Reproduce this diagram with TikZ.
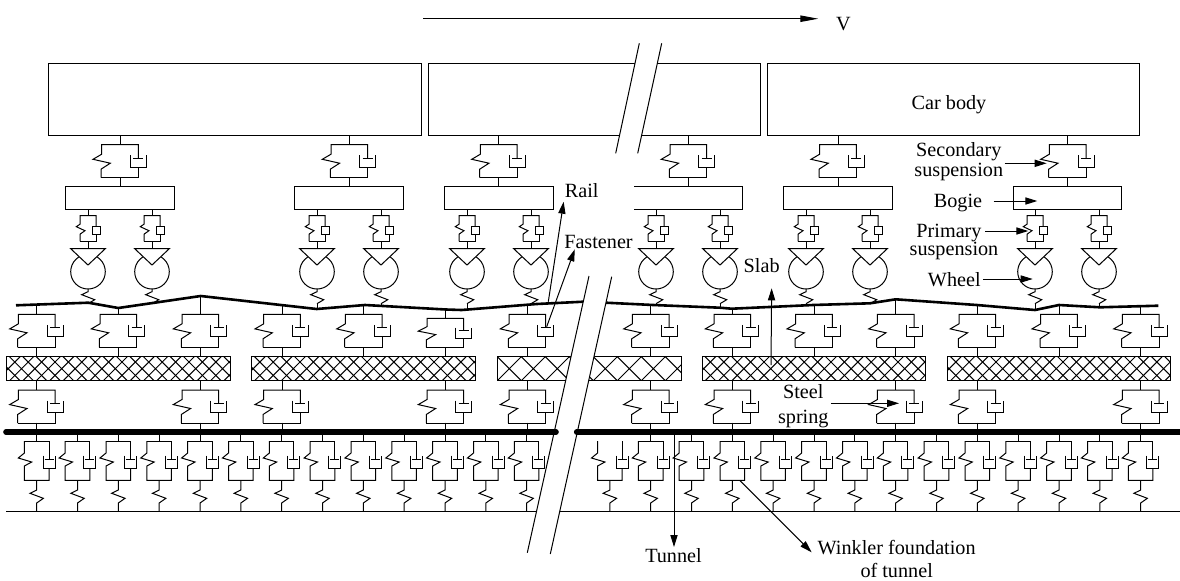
\documentclass[tikz,border=0pt]{standalone}
\usepackage{fontspec}
\setmainfont{Liberation Serif}
\usetikzlibrary{arrows.meta}
\newcommand{\hatchslab}[3]{%
  \pgfmathsetmacro{\hatchfirst}{#1-24}%
  \pgfmathsetmacro{\hatchnext}{#1-24+#3}%
  \begin{scope}
    \clip (#1,356.7) rectangle (#2,380.7);
    \foreach \k in {\hatchfirst,\hatchnext,...,#2}
      \draw (\k,356.7) -- (\k+24,380.7) (\k+24,356.7) -- (\k,380.7);
  \end{scope}
  \draw (#1,356.7) rectangle (#2,380.7);
}

\begin{document}
\begin{tikzpicture}[
  x=0.5pt, y=-0.5pt, line width=0.5pt,
  labeltext/.style={anchor=base, inner sep=0pt, align=center, font=\fontsize{10.1}{8.5}\selectfont},
  pointer/.style={-{Triangle[length=6pt,width=3.6pt]}},
  longpointer/.style={-{Triangle[length=9pt,width=3.2pt]}},
  railline/.style={line width=1.3pt, line join=round},
  beamline/.style={line width=2.8pt, line cap=round},
  bigsus/.pic={
    \draw (-19,33) -- (-19,24.5) -- (-9.7,18.5) -- (-27,14.6) -- (-18.3,9.5) -- (-18.3,0) -- (18.3,0) -- (18.3,13.6);
    \draw (-19,33) -- (18.3,33) -- (18.3,22.6);
    \draw (13.3,13.6) -- (23.3,13.6);
    \draw (10.3,10.5) -- (10.3,22.6) -- (26.3,22.6) -- (26.3,10.5);
  },
  smallsus/.pic={
    \draw (-8,25.6) -- (-8,18.5) -- (-3,15) -- (-11.7,11) -- (-8,8.5) -- (-8,0) -- (8,0) -- (8,10.3);
    \draw (-8,25.6) -- (8,25.6) -- (8,18.3);
    \draw (4,10.3) rectangle (12,18.3);
  },
  wheelset/.pic={
    \draw (0,23) circle [radius=17.3];
    \draw[fill=white] (-17.3,0) -- (17.3,0) -- (0,16.3) -- cycle;
    \draw (0,40.3) -- (0,43) -- (-6.3,46) -- (6.7,51) -- (0,55);
  },
  fndsus/.pic={
    \draw (-12.3,0) -- (-12.3,12) -- (-18.4,17) -- (-5,21) -- (-12.3,25) -- (-12.3,39.3) -- (12.3,39.3) -- (12.3,27.3);
    \draw (12.3,0) -- (12.3,18);
    \draw (7.8,18) -- (16.8,18);
    \draw (6.3,14.7) -- (6.3,27.3) -- (18.3,27.3) -- (18.3,14.7);
    \draw (0,39.3) -- (0,49) -- (-6.7,52.3) -- (6.7,57.3) -- (0,62) -- (0,70.7);
  }
]
\useasboundingbox (0,0) rectangle (1180,580);

% car bodies
\draw (48.7,63.3) rectangle (421,135.7);
\draw (428,63.3) rectangle (760,135.7);
\draw (767.3,63.3) rectangle (1139,135.7);

% bogies
\foreach \xa/\xb in {65.7/174, 294.3/403.3, 444.3/553, 783.3/892.3, 1013.3/1121.7}
  \draw (\xa,186.7) rectangle (\xb,209.3);
\draw (634,186.7) -- (742.7,186.7) -- (742.7,209.3) -- (634,209.3);

% secondary suspensions
\foreach \x in {120, 349.3, 498.7, 688.3, 838, 1067.7} {
  \draw (\x,135.7) -- (\x,144.7) (\x,177.7) -- (\x,186.7);
  \pic at (\x,144.7) {bigsus};
}

% primary suspensions and wheels
\foreach \x/\r in {88/303, 152/303, 317/309, 381/306, 467/310, 531/305, 656/305, 720/307.7, 806/305.5, 870/303.3, 1035/310, 1099/307.3} {
  \draw (\x,209.3) -- (\x,215.7) (\x,241.3) -- (\x,248.7);
  \pic at (\x,215.7) {smallsus};
  \pic at (\x,248.7) {wheelset};
  \draw (\x,303.7) -- (\x,\r);
}

% rail
\draw[railline] (16,305.3) -- (88.3,302.7) -- (118.3,308) -- (200.7,296) -- (316.7,309) -- (365,305) -- (446,309.5) -- (461.7,310) -- (536.7,304) -- (583.3,301.7);
\draw[railline] (606,302.7) -- (653.3,305) -- (720,307.7) -- (731.7,308.7) -- (813,305) -- (870,303.3) -- (895.7,299.3) -- (976.7,305) -- (1035,310) -- (1059,305) -- (1100,307.3) -- (1158.3,305.7);

% fasteners
\foreach \x/\r in {36.7/304, 118.3/308, 200.3/296, 282/305.5, 363.7/305, 527.3/305, 650.7/305, 732.3/308.5, 814/305, 895.7/299.3, 977.3/305.5, 1059/305, 1140.7/306} {
  \draw (\x,\r) -- (\x,314.3) (\x,347.3) -- (\x,356.7);
  \pic at (\x,314.3) {bigsus};
}
\draw (445.3,310) -- (445.3,318.3) (445.3,347.3) -- (445.3,356.7);
\pic[yscale=0.88] at (445.3,318.3) {bigsus};

% slabs
\hatchslab{6.7}{230.7}{13.4}
\hatchslab{251.7}{475.7}{13.4}
\hatchslab{497.3}{681}{24}
\hatchslab{702.3}{925.7}{13.4}
\hatchslab{947.7}{1170.7}{13.4}

% steel springs
\foreach \x in {36.7, 200.3, 282, 445.3, 527.3, 650.7, 732.3, 895.7, 977.3, 1140.7} {
  \draw (\x,380.7) -- (\x,390) (\x,422.7) -- (\x,432);
  \pic at (\x,390) {bigsus};
}

% foundation of tunnel
\foreach \x in {36.7,77.53,...,527} {
  \draw (\x,432) -- (\x,441) (\x-12.3,441) -- (\x+12.3,441);
  \pic at (\x,441) {fndsus};
}
\foreach \x in {650.7,691.53,...,1141} {
  \draw (\x,432) -- (\x,441) (\x-12.3,441) -- (\x+12.3,441);
  \pic at (\x,441) {fndsus};
}
\pic at (609.9,441) {fndsus};
\draw (6,511.7) -- (1180,511.7);

% breaks
\fill[white] (639.3,43.3) -- (661.7,43.3) -- (637.7,153.3) -- (615.7,153.3) -- cycle;
\draw (639.3,43.3) -- (615.7,153.3) (661.7,43.3) -- (637.7,153.3);
\fill[white] (589,276) -- (611.7,276.7) -- (550.3,554) -- (527.3,552.7) -- cycle;
\draw (589,276) -- (527.3,552.7) (611.7,276.7) -- (550.3,554);

% tunnel
\draw[beamline] (6,432) -- (556,432);
\draw[beamline] (576.7,432) -- (1180,432);

% labels
\node[labeltext] (vlabel) at (843.3,30.7) {V};
\node[labeltext] (carlabel) at (949,109.3) {Car body};
\node[labeltext] (seclabel) at (958.8,176.7) {Secondary\\suspension};
\node[labeltext] (bogielabel) at (958,207.3) {Bogie};
\node[labeltext] (primlabel) at (949,237.3) {Primary};
\node[labeltext] (primsub) at (954,255) {suspension};
\node[labeltext] (wheellabel) at (954.3,286.7) {Wheel};
\node[labeltext] (raillabel) at (581.7,197.3) {Rail};
\node[labeltext] (fastlabel) at (598.5,248.3) {Fastener};
\node[labeltext] (slablabel) at (761.7,272.7) {Slab};
\node[labeltext] (steellabel) at (803.3,423.3) {Steel\\[4pt]spring};
\node[labeltext] (tunnellabel) at (673.5,562.3) {Tunnel};
\node[labeltext] (winklabel) at (896.7,577.3) {Winkler foundation\\[3pt]of tunnel};

% arrows
\coordinate (vtail) at (423,18.7);
\coordinate (railfoot) at (548.3,301.7);
\coordinate (fastfoot) at (546.7,326.7);
\coordinate (slabfoot) at (771,365);
\coordinate (tunnelfoot) at (674,432);
\coordinate (winkfoot) at (740,480.7);
\coordinate (sectip) at (1046.7,163.3);
\coordinate (bogietip) at (1037.3,201);
\coordinate (primtip) at (1028.3,231);
\coordinate (wheeltip) at (1032.7,279);
\coordinate (steeltip) at (899,403.3);
\draw[longpointer] (vtail) -- ([shift={(-25,-12)}]vlabel.base);
\draw[pointer] ([shift={(1,-13.4)}]seclabel.base east) -- (sectip);
\draw[pointer] ([shift={(11,-6.3)}]bogielabel.base east) -- (bogietip);
\draw[pointer] ([shift={(3.3,-6.3)}]primlabel.base east) -- (primtip);
\draw[pointer] ([shift={(1.7,-7.7)}]wheellabel.base east) -- (wheeltip);
\draw[pointer] ([shift={(1.7,-20)}]steellabel.base east) -- (steeltip);
\draw[pointer] (railfoot) -- ([shift={(-0.7,4.4)}]raillabel.base west);
\draw[pointer] (fastfoot) -- ([shift={(11,1)}]fastlabel.base west);
\draw[pointer] (slabfoot) -- ([shift={(-8.5,15.6)}]slablabel.base east);
\draw[pointer] (tunnelfoot) -- ([shift={(0.5,-15.3)}]tunnellabel.base);
\draw[pointer] (winkfoot) -- ([shift={(-5.6,-25)}]winklabel.base west);
\end{tikzpicture}
\end{document}
